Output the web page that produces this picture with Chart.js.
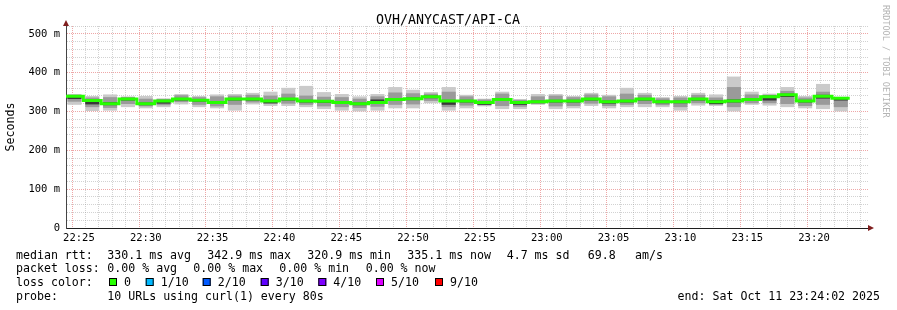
<!DOCTYPE html>
<html>
<head>
<meta charset="utf-8">
<title>OVH/ANYCAST/API-CA</title>
<script src="https://cdn.jsdelivr.net/npm/chart.js@4.4.1/dist/chart.umd.min.js"></script>
<style>
  html, body { margin: 0; padding: 0; background: #fff; }
  #wrap { width: 897px; height: 310px; position: relative; }
</style>
</head>
<body>
<div id="wrap"><canvas id="chart"></canvas></div>
<script>
// x values are seconds since 22:24:00, one smokeping step = 80 s
const STEP = 80;
const X_MIN = 2;      // 22:24:02
const X_MAX = 3602;   // 23:24:02
const START_MINUTE = 24; // 22:24
const Y_MAX = 520;

const chartTitle = 'OVH/ANYCAST/API-CA';

// median rtt per step (ms)
const medianRtt = [339, 328, 320, 332, 320, 327, 332, 329, 323, 332, 332, 327, 332, 327, 326, 323,
  320, 323, 331, 333, 338, 327, 327, 323, 331, 323, 325, 327, 327, 332, 325, 327,
  332, 325, 325, 332, 325, 327, 331, 338, 343, 327, 339, 334];
// smoke: fastest / slowest of the 10 pings
const rttMin = [318, 302, 303, 312, 309, 312, 319, 312, 309, 303, 319, 315, 315, 312, 307, 303,
  301, 303, 309, 309, 322, 303, 309, 314, 307, 307, 318, 307, 309, 315, 309, 312,
  312, 312, 303, 316, 315, 301, 318, 316, 312, 309, 307, 301];
const rttMax = [344, 339, 343, 338, 339, 333, 344, 339, 343, 344, 347, 350, 360, 365, 349, 344,
  338, 344, 362, 355, 349, 362, 342, 332, 350, 331, 344, 344, 339, 347, 342, 360,
  347, 336, 339, 347, 343, 389, 350, 345, 362, 339, 370, 337];
// smoke: inner pings
const midLo = [326, 312, 310, 320, 314, 317, 325, 318, 314, 318, 324, 320, 321, 318, 314, 312,
  310, 313, 318, 319, 328, 312, 316, 317, 315, 313, 321, 314, 315, 321, 315, 318,
  320, 317, 312, 322, 318, 312, 322, 322, 320, 315, 318, 312];
const midHi = [342, 335, 336, 336, 332, 331, 341, 336, 338, 340, 342, 340, 345, 340, 337, 336,
  332, 338, 348, 346, 345, 350, 338, 330, 345, 329, 338, 340, 336, 343, 338, 345,
  342, 333, 335, 342, 335, 362, 343, 342, 352, 335, 350, 335];
// smoke: the two pings around the median
const coreLo = [333, 319, 317, 329, 317, 321, 329, 326, 320, 329, 329, 322, 329, 324, 323, 320,
  317, 320, 328, 330, 335, 318, 324, 318, 328, 318, 322, 324, 324, 329, 321, 324,
  329, 322, 322, 329, 320, 324, 328, 329, 338, 324, 334, 329];
const coreHi = [341, 330, 323, 334, 322, 329, 334, 331, 325, 334, 334, 329, 334, 329, 328, 325,
  322, 330, 333, 335, 340, 329, 329, 325, 333, 326, 327, 329, 329, 334, 327, 329,
  334, 327, 327, 334, 328, 330, 333, 340, 345, 329, 342, 336];

const rttStats = ['330.1 ms avg', '342.9 ms max', '320.9 ms min', '335.1 ms now', '4.7 ms sd', '69.8', 'am/s'];
const lossStats = ['0.00 % avg', '0.00 % max', '0.00 % min', '0.00 % now'];
const lossLabels = ['0', '1/10', '2/10', '3/10', '4/10', '5/10', '9/10'];
const lossColors = ['#26ff00', '#00b8ff', '#0059ff', '#5e00ff', '#7e00ff', '#dd00ff', '#ff0000'];
const probeText = '10 URLs using curl(1) every 80s';
const endText = 'end: Sat Oct 11 23:24:02 2025';
const watermark = 'RRDTOOL / TOBI OETIKER';

const MONO = '"DejaVu Sans Mono", monospace';
const GRID_MINOR = 'rgba(143,143,143,0.4)';
const GRID_MAJOR = 'rgba(222,79,79,0.5)';

const band = (lo, hi) => lo.map((v, i) => ({ x: i * STEP + STEP / 2, y: [v, hi[i]] }));
const medianPts = medianRtt.map((v, i) => ({ x: i * STEP, y: v }));
medianPts.push({ x: medianRtt.length * STEP, y: medianRtt[medianRtt.length - 1] });

const minuteTicks = [];
for (let m = 1; m <= 60; m++) minuteTicks.push(m * 60);
const msTicks = [];
for (let v = 0; v <= Y_MAX; v += 20) msTicks.push(v);

const isMajorMinute = v => (START_MINUTE + v / 60) % 5 === 0;
const fmtTime = v => {
  const total = 22 * 60 + START_MINUTE + v / 60;
  const h = Math.floor(total / 60) % 24, m = total % 60;
  return String(h).padStart(2, '0') + ':' + String(m).padStart(2, '0');
};

const barDefaults = { borderWidth: 0, grouped: false, barPercentage: 1, categoryPercentage: 1 };

// ── Decorations: title, arrows, watermark, legend lines ──────────────────
const rrdDecor = {
  id: 'rrdDecor',
  afterDraw(chart) {
    const { ctx, chartArea: a } = chart;
    ctx.save();
    ctx.fillStyle = '#000';
    ctx.textBaseline = 'alphabetic';

    ctx.font = '13.3px ' + MONO;
    ctx.textAlign = 'center';
    ctx.fillText(chartTitle, 448, 24);

    // axis arrows
    ctx.fillStyle = '#801f1f';
    ctx.beginPath();
    ctx.moveTo(a.left - 3, a.top);
    ctx.lineTo(a.left + 3, a.top);
    ctx.lineTo(a.left, a.top - 6);
    ctx.closePath();
    ctx.fill();
    ctx.beginPath();
    ctx.moveTo(a.right, a.bottom - 3);
    ctx.lineTo(a.right, a.bottom + 3);
    ctx.lineTo(a.right + 6, a.bottom);
    ctx.closePath();
    ctx.fill();

    // vertical watermark
    ctx.save();
    ctx.translate(883, 5);
    ctx.rotate(Math.PI / 2);
    ctx.font = '8.5px ' + MONO;
    ctx.textAlign = 'left';
    ctx.fillStyle = '#b4b4b4';
    ctx.fillText(watermark, 0, 0);
    ctx.restore();

    // legend block
    ctx.font = '11.6px ' + MONO;
    ctx.textAlign = 'left';
    ctx.fillStyle = '#000';
    const rows = [258.5, 272, 286, 299.5];

    ctx.fillText('median rtt:', 16, rows[0]);
    const rttX = [107.3, 207.3, 307.3, 407.3, 506.7, 587.7, 635];
    rttStats.forEach((t, i) => ctx.fillText(t, rttX[i], rows[0]));

    ctx.fillText('packet loss:', 16, rows[1]);
    const lossX = [107.3, 193.3, 279.3, 365.7];
    lossStats.forEach((t, i) => ctx.fillText(t, lossX[i], rows[1]));

    ctx.fillText('loss color:', 16, rows[2]);
    const boxX = [109, 145.7, 202.7, 260.7, 318.3, 376, 435];
    lossLabels.forEach((t, i) => {
      ctx.fillStyle = lossColors[i];
      ctx.fillRect(boxX[i], rows[2] - 8, 8, 8);
      ctx.strokeStyle = '#000';
      ctx.lineWidth = 1;
      ctx.strokeRect(boxX[i] + 0.5, rows[2] - 7.5, 7, 7);
      ctx.fillStyle = '#000';
      ctx.fillText(t, boxX[i] + 15, rows[2]);
    });

    ctx.fillText('probe:', 16, rows[3]);
    ctx.fillText(probeText, 107.3, rows[3]);
    ctx.textAlign = 'right';
    ctx.fillText(endText, 880, rows[3]);
    ctx.restore();
  },
};

new Chart(document.getElementById('chart'), {
  type: 'bar',
  data: {
    datasets: [
      {
        type: 'line',
        label: 'median rtt',
        data: medianPts,
        borderColor: lossColors[0],
        borderWidth: 3,
        borderCapStyle: 'butt',
        stepped: 'before',
        pointRadius: 0,
        fill: false,
        order: 0,
      },
      { label: 'core', data: band(coreLo, coreHi), backgroundColor: '#383838', order: 1, ...barDefaults },
      { label: 'mid', data: band(midLo, midHi), backgroundColor: '#9a9a9a', order: 2, ...barDefaults },
      { label: 'outer', data: band(rttMin, rttMax), backgroundColor: '#cacaca', order: 3, ...barDefaults },
    ],
  },
  options: {
    responsive: true,
    maintainAspectRatio: false,
    animation: false,
    layout: { padding: { left: 0, right: 29, top: 26, bottom: 0 } },
    scales: {
      x: {
        type: 'linear',
        min: X_MIN,
        max: X_MAX,
        offset: false,
        afterBuildTicks: s => { s.ticks = minuteTicks.map(v => ({ value: v })); },
        afterFit: s => { s.height = 82; },
        border: { display: true, color: '#1f1f1f', width: 1, dash: [1, 1] },
        grid: {
          drawTicks: false,
          color: c => (c.tick && isMajorMinute(c.tick.value) ? GRID_MAJOR : GRID_MINOR),
        },
        ticks: {
          autoSkip: false,
          maxRotation: 0,
          padding: 4,
          color: '#000',
          font: { family: MONO, size: 10.5 },
          callback: v => (isMajorMinute(v) ? fmtTime(v) : ''),
        },
      },
      y: {
        min: 0,
        max: Y_MAX,
        afterBuildTicks: s => { s.ticks = msTicks.map(v => ({ value: v })); },
        afterFit: s => { s.width = 66; },
        border: { display: true, color: '#444', width: 1, dash: [1, 1] },
        grid: {
          drawTicks: false,
          color: c => (c.tick && c.tick.value % 100 === 0 ? GRID_MAJOR : GRID_MINOR),
        },
        ticks: {
          autoSkip: false,
          padding: 6,
          color: '#000',
          font: { family: MONO, size: 10.5 },
          callback: v => (v % 100 === 0 ? (v === 0 ? '0' : v + ' m') : ''),
        },
        title: {
          display: true,
          text: 'Seconds',
          color: '#000',
          font: { family: MONO, size: 11.6 },
          padding: { top: 4, bottom: 0 },
        },
      },
    },
    plugins: {
      legend: { display: false },
      tooltip: { enabled: false },
      title: { display: false },
    },
  },
  plugins: [rrdDecor],
});
</script>
</body>
</html>
